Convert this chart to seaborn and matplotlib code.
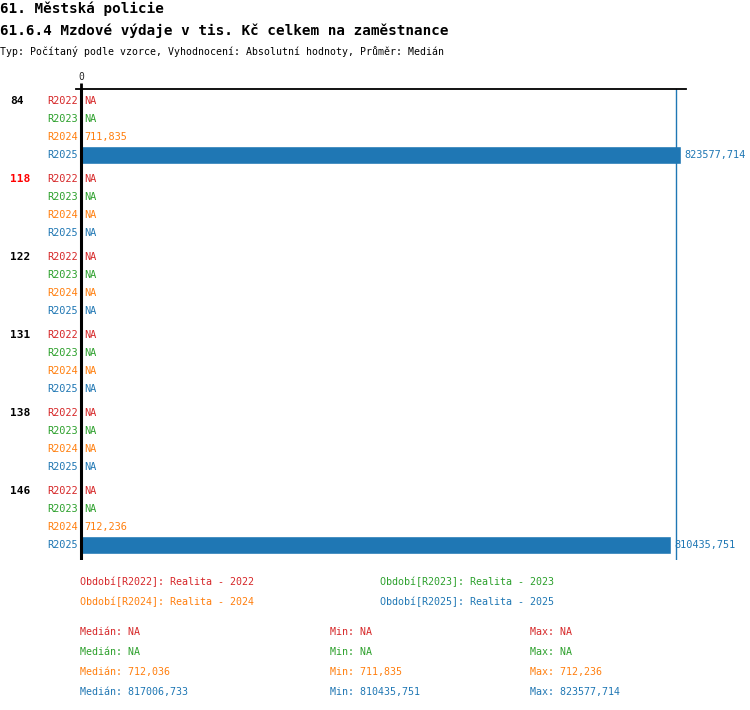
import numpy as np
import pandas as pd
import matplotlib
matplotlib.use("Agg")
import matplotlib.pyplot as plt
import seaborn as sns

# ---- data ----
groups = ["84", "118", "122", "131", "138", "146"]
series = ["R2022", "R2023", "R2024", "R2025"]
series_colors = ["#d62728", "#2ca02c", "#ff7f0e", "#1f77b4"]
group_label_colors = ["black", "red", "black", "black", "black", "black"]
values_r2022 = [np.nan, np.nan, np.nan, np.nan, np.nan, np.nan]
values_r2023 = [np.nan, np.nan, np.nan, np.nan, np.nan, np.nan]
values_r2024 = [711.835, np.nan, np.nan, np.nan, np.nan, 712.236]
values_r2025 = [823577.714, np.nan, np.nan, np.nan, np.nan, 810435.751]
legend_labels = ["Období[R2022]: Realita - 2022", "Období[R2023]: Realita - 2023",
                 "Období[R2024]: Realita - 2024", "Období[R2025]: Realita - 2025"]
stat_median = ["NA", "NA", "712,036", "817006,733"]
stat_min = ["NA", "NA", "711,835", "810435,751"]
stat_max = ["NA", "NA", "712,236", "823577,714"]
median_r2025 = 817006.733
title1 = "61. Městská policie"
title2 = "61.6.4 Mzdové výdaje v tis. Kč celkem na zaměstnance"
subtitle = "Typ: Počítaný podle vzorce, Vyhodnocení: Absolutní hodnoty, Průměr: Medián"

all_vals = [values_r2022, values_r2023, values_r2024, values_r2025]
rows = []
for s, vals in zip(series, all_vals):
    for g, v in zip(groups, vals):
        rows.append({"group": g, "series": s, "value": v})
df = pd.DataFrame(rows)

sns.set_style("white")
plt.rcParams["font.family"] = ["DejaVu Sans Mono", "DejaVu Sans"]

W, H = 750, 710
fig = plt.figure(figsize=(W / 100, H / 100), dpi=100)
ax = fig.add_axes([76 / W, 1 - 560 / H, (686 - 76) / W, (560 - 89) / H])

width = 72 / 78
sns.barplot(data=df, y="group", x="value", hue="series", order=groups,
            hue_order=series, palette=series_colors, orient="h",
            width=width, gap=0.05, dodge=True, ax=ax, legend=False,
            saturation=1, errorbar=None)

vmax = np.nanmax(values_r2025)
ax.set_xlim(-vmax / 120, vmax * (1 + 1 / 120))
ax.set_ylim(len(groups) - 0.5 + 3 / 78, -0.5)

for sp in ["left", "right", "bottom"]:
    ax.spines[sp].set_visible(False)
ax.spines["top"].set_color("black")
ax.spines["top"].set_linewidth(1.3)
ax.set_xlabel("")
ax.set_ylabel("")
ax.set_yticks([])
ax.xaxis.tick_top()
ax.set_xticks([0])
ax.set_xticklabels(["0"], fontsize=7)
ax.tick_params(axis="x", length=4, width=2, pad=1, color="black")

ax.axvline(0, color="black", lw=2.2, zorder=5)
ax.axvline(median_r2025, color="#1f77b4", lw=1, zorder=1)

step = width / len(series)
xoff = vmax / 120 * 0.6
fmt = lambda v: f"{v:.3f}".replace(".", ",")
lab_tr = matplotlib.transforms.blended_transform_factory(fig.transFigure, ax.transData)
for gi, g in enumerate(groups):
    ax.text(10 / W, gi - 1.5 * step, g, transform=lab_tr, ha="left", va="center",
            fontsize=8, fontweight="bold", color=group_label_colors[gi])
    for si, (s, vals) in enumerate(zip(series, all_vals)):
        y = gi + (si - 1.5) * step
        c = series_colors[si]
        ax.text(78 / W, y, s, transform=lab_tr, ha="right", va="center",
                fontsize=7.4, color=c)
        v = vals[gi]
        if np.isnan(v):
            ax.text(xoff, y, "NA", ha="left", va="center", fontsize=7.4, color=c)
        else:
            ax.text(max(v, 0) + xoff, y, fmt(v), ha="left", va="center",
                    fontsize=7.4, color=c)

# titles
fig.text(0 / W, 1 - 13.5 / H, title1, ha="left", va="baseline", fontsize=10.3,
         fontweight="bold", color="black")
fig.text(0 / W, 1 - 35.5 / H, title2, ha="left", va="baseline", fontsize=10.3,
         fontweight="bold", color="black")
fig.text(0 / W, 1 - 55 / H, subtitle, ha="left", va="baseline", fontsize=7.1,
         color="black")

# legend
leg_pos = [(80, 582), (380, 582), (80, 602), (380, 602)]
for (x, y), lab, c in zip(leg_pos, legend_labels, series_colors):
    fig.text(x / W, 1 - y / H, lab, ha="left", va="center", fontsize=7.2, color=c)

# stats
for i, c in enumerate(series_colors):
    y = 632 + 20 * i
    fig.text(80 / W, 1 - y / H, f"Medián: {stat_median[i]}", ha="left", va="center",
             fontsize=7.2, color=c)
    fig.text(330 / W, 1 - y / H, f"Min: {stat_min[i]}", ha="left", va="center",
             fontsize=7.2, color=c)
    fig.text(530 / W, 1 - y / H, f"Max: {stat_max[i]}", ha="left", va="center",
             fontsize=7.2, color=c)

fig.savefig("out.png", dpi=100)
